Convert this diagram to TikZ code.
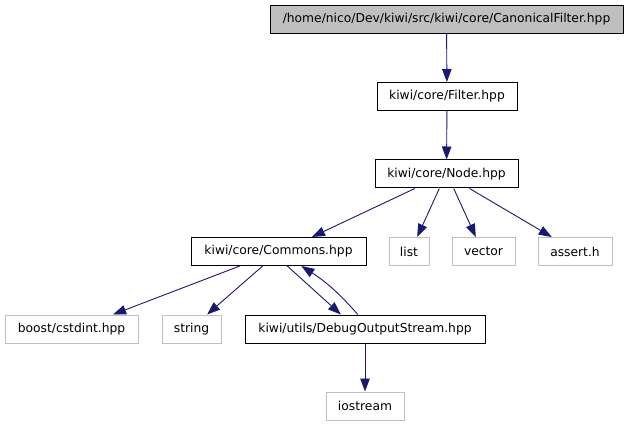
\documentclass[tikz,border=0pt]{standalone}
\usepackage{fontspec}
\setmainfont{DejaVu Sans}
\usetikzlibrary{arrows.meta,calc}
\definecolor{edgeblue}{HTML}{191970}
\definecolor{boxgrey}{HTML}{BFBFBF}
\begin{document}
\begin{tikzpicture}[x=1pt,y=-1pt,
  base/.style={inner sep=0pt,font=\fontsize{12.3}{14}\selectfont,minimum height=28pt},
  mainbox/.style={base,draw=black,line width=1pt},
  rootbox/.style={mainbox,fill=boxgrey},
  extbox/.style={base,draw=boxgrey,line width=1pt},
  dep/.style={draw=edgeblue,line width=0.9pt,-{Triangle[length=13pt,width=9.5pt]}}]
\useasboundingbox (0,0) rectangle (628,427);
\node[rootbox,minimum width=353pt] (canon) at (446.5,19.5) {/home/nico/Dev/kiwi/src/kiwi/core/CanonicalFilter.hpp};
\node[mainbox,minimum width=140pt] (filter) at (447,96.5) {kiwi/core/Filter.hpp};
\node[mainbox,minimum width=143pt] (nodeh) at (446.5,174) {kiwi/core/Node.hpp};
\node[mainbox,minimum width=175pt] (commons) at (278.5,251.5) {kiwi/core/Commons.hpp};
\node[extbox,minimum width=40pt] (list) at (409,251.5) {list};
\node[extbox,minimum width=63pt] (vector) at (483.5,251.5) {vector};
\node[extbox,minimum width=74pt] (assert) at (575,251.5) {assert.h};
\node[extbox,minimum width=133pt] (boost) at (71.5,329) {boost/cstdint.hpp};
\node[extbox,minimum width=59pt] (string) at (191.5,329) {string};
\node[mainbox,minimum width=240pt] (debug) at (365,329) {kiwi/utils/DebugOutputStream.hpp};
\node[extbox,minimum width=78pt] (iostream) at (365,406) {iostream};

\draw[dep] (canon) -- (filter);
\draw[dep] (filter) -- (nodeh);
\draw[dep] ($(nodeh.south west)!0.28!(nodeh.south east)$) -- ($(commons.north west)!0.69!(commons.north east)$);
\draw[dep] ($(nodeh.south west)!0.45!(nodeh.south east)$) -- ($(list.north west)!0.7!(list.north east)$);
\draw[dep] ($(nodeh.south west)!0.55!(nodeh.south east)$) -- ($(vector.north west)!0.38!(vector.north east)$);
\draw[dep] ($(nodeh.south west)!0.66!(nodeh.south east)$) -- ($(assert.north west)!0.19!(assert.north east)$);
\draw[dep] ($(commons.south west)!0.28!(commons.south east)$) -- ($(boost.north west)!0.81!(boost.north east)$);
\draw[dep] ($(commons.south west)!0.41!(commons.south east)$) -- ($(string.north west)!0.76!(string.north east)$);
\draw[dep] ($(commons.south west)!0.55!(commons.south east)$) -- ($(debug.north west)!0.40!(debug.north east)$);
\draw[dep] ($(debug.north west)!0.47!(debug.north east)$) to[bend right=8] ($(commons.south west)!0.63!(commons.south east)$);
\draw[dep] (debug) -- (iostream);
\end{tikzpicture}
\end{document}
